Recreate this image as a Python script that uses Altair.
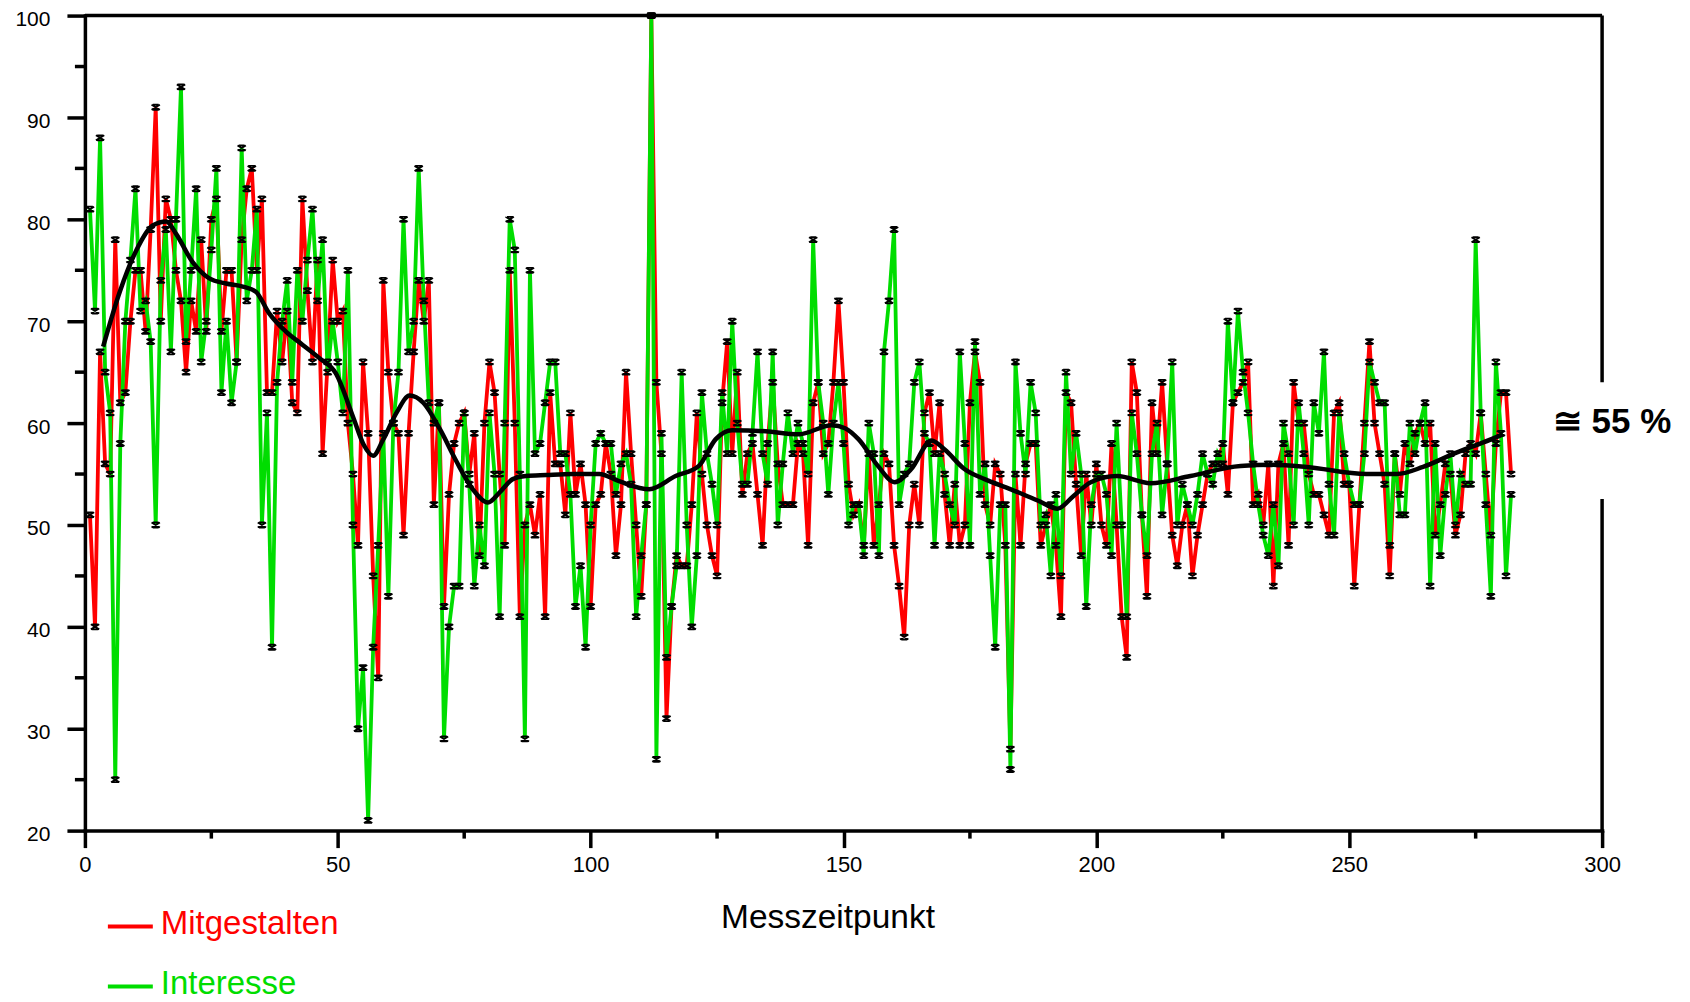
import altair as alt
import pandas as pd

# ---------------- data ----------------
x_index = list(range(1, 283))

mitgestalten = [
    51, 40, 67, 56, 55, 78, 62, 63, 70, 75,
    75, 69, 79, 91, 70, 82, 80, 75, 72, 65,
    72, 69, 78, 69, 80, 82, 69, 75, 75, 66,
    78, 83, 85, 75, 82, 63, 63, 71, 66, 71,
    62, 61, 82, 73, 66, 76, 57, 66, 76, 70,
    71, 60, 55, 48, 66, 59, 45, 35, 74, 65,
    60, 59, 49, 59, 67, 74, 70, 74, 52, 62,
    42, 53, 58, 60, 61, 55, 59, 47, 60, 66,
    63, 55, 48, 75, 60, 41, 50, 52, 49, 53,
    41, 63, 56, 56, 51, 61, 53, 56, 52, 42,
    52, 53, 58, 55, 47, 52, 65, 57, 50, 43,
    52, 100, 64, 57, 31, 42, 47, 46, 46, 52,
    61, 55, 50, 47, 45, 62, 68, 57, 65, 53,
    57, 58, 53, 48, 58, 64, 56, 52, 52, 52,
    58, 57, 48, 62, 64, 57, 58, 64, 72, 64,
    54, 51, 52, 48, 57, 48, 52, 57, 56, 48,
    44, 39, 50, 54, 50, 61, 63, 57, 62, 53,
    48, 54, 48, 50, 62, 67, 64, 52, 50, 56,
    55, 48, 28, 55, 48, 56, 58, 58, 48, 50,
    52, 48, 41, 63, 62, 54, 47, 55, 50, 56,
    50, 48, 58, 50, 41, 37, 66, 63, 51, 43,
    62, 57, 64, 56, 49, 46, 50, 52, 45, 49,
    52, 55, 56, 56, 58, 53, 62, 63, 64, 66,
    52, 53, 50, 56, 44, 56, 58, 48, 64, 60,
    60, 55, 53, 53, 51, 49, 61, 62, 54, 54,
    44, 52, 60, 68, 60, 57, 54, 45, 57, 53,
    58, 56, 59, 60, 58, 60, 49, 52, 56, 55,
    49, 51, 57, 58, 57, 61, 55, 49, 58, 63,
    63, 55,
]

interesse = [
    81, 71, 88, 65, 61, 25, 58, 70, 76, 83,
    71, 72, 68, 50, 74, 79, 67, 80, 93, 68,
    75, 83, 66, 70, 77, 85, 63, 70, 62, 66,
    87, 72, 75, 81, 50, 61, 38, 64, 70, 74,
    64, 75, 70, 76, 81, 72, 78, 65, 70, 66,
    61, 75, 50, 30, 36, 21, 38, 48, 59, 43,
    60, 65, 80, 67, 70, 85, 72, 62, 60, 62,
    29, 40, 44, 44, 61, 54, 44, 50, 46, 61,
    55, 41, 60, 80, 77, 55, 29, 75, 57, 58,
    62, 66, 66, 57, 57, 53, 42, 46, 38, 50,
    58, 59, 58, 58, 53, 56, 57, 54, 41, 47,
    52, 100, 27, 59, 37, 42, 46, 65, 50, 40,
    47, 63, 57, 54, 50, 63, 57, 70, 60, 54,
    54, 59, 67, 57, 54, 67, 50, 56, 61, 57,
    60, 58, 55, 78, 64, 60, 53, 60, 64, 58,
    50, 52, 52, 47, 60, 57, 47, 67, 72, 79,
    52, 55, 56, 64, 66, 59, 58, 48, 57, 55,
    52, 50, 67, 58, 48, 68, 53, 56, 47, 38,
    52, 52, 26, 66, 59, 55, 64, 61, 50, 51,
    45, 53, 45, 65, 55, 59, 55, 42, 52, 55,
    55, 53, 47, 60, 50, 41, 61, 57, 51, 47,
    57, 60, 51, 56, 66, 50, 54, 52, 50, 53,
    57, 55, 54, 57, 56, 70, 62, 71, 65, 61,
    56, 52, 49, 47, 52, 46, 60, 57, 50, 62,
    57, 50, 62, 59, 67, 54, 49, 61, 57, 54,
    52, 52, 57, 66, 64, 62, 62, 48, 57, 51,
    51, 60, 57, 60, 62, 44, 58, 47, 53, 57,
    50, 55, 54, 54, 78, 61, 52, 43, 66, 59,
    45, 53,
]

trend_x = [3.6, 6.9, 10.2, 13.4, 16.1, 18, 21.3, 24.6, 27.9, 31.2, 33.8, 36.4,
           39.7, 43, 46.3, 49.6, 53.1, 55.1, 57, 59, 61.6, 64.2, 66.9, 70.2,
           73.4, 76.7, 79.7, 82, 84.6, 87.2, 91.2, 96.4, 101.7, 105.6, 111.6,
           116.8, 121.4, 124.7, 128, 134.6, 141.1, 147.7, 150.3, 153, 156.8,
           160.1, 163.4, 167.4, 170, 173.9, 177.9, 183.1, 188.4, 192.3, 195.6,
           198.9, 204.1, 210.7, 218.6, 228.5, 235.1, 241.6, 253.4, 259.4,
           264.6, 271.2, 276.5, 280.4]
trend_y = [67.5, 72.9, 77, 79.4, 79.8, 78.6, 75.8, 74.2, 73.7, 73.4, 72.9, 70.8,
           69, 67.7, 66.4, 64.9, 60.5, 57.9, 56.8, 58.4, 61, 62.7, 62, 59.4,
           56.3, 53.5, 52.2, 53.2, 54.5, 54.8, 54.9, 55, 55, 54.3, 53.5,
           54.8, 55.8, 58.4, 59.3, 59.2, 58.9, 59.8, 59.5, 58.4, 55.8,
           54.2, 55.5, 58.3, 57.4, 55.5, 54.5, 53.5, 52.4, 51.6, 52.9,
           54.2, 54.8, 54.1, 54.8, 55.8, 55.9, 55.7, 55, 55,
           55.7, 57.1, 58.1, 58.9]

y_ticks = list(range(20, 101, 10))
y_minor = list(range(25, 100, 10))
x_ticks = list(range(0, 301, 50))
x_minor = list(range(25, 300, 50))
legend_labels = ["Mitgestalten", "Interesse"]
x_title = ["Messzeitpunkt"]
annotation = ["\u2245 55 %"]

# ---------------- styling ----------------
W, H = 1519, 816
RED = "#ff0000"
GREEN = "#00dd00"
FONT = "Liberation Sans"
AX = 3.5

xs = alt.Scale(domain=[0, 300], nice=False, zero=False)
ys = alt.Scale(domain=[20, 100], nice=False, zero=False)
xaxis = alt.Axis(values=x_ticks, tickSize=17, tickWidth=AX, domainWidth=AX,
                 domainColor="black", tickColor="black", labelColor="black",
                 labelFont=FONT, labelFontSize=22, labelPadding=7,
                 labelFlush=False, labelOverlap=False, grid=False, title=None,
                 format="d", domainCap="square")
yaxis = alt.Axis(values=y_ticks, tickSize=18, tickWidth=AX, domainWidth=AX,
                 domainColor="black", tickColor="black", labelColor="black",
                 labelFont=FONT, labelFontSize=21, labelPadding=17,
                 labelOffset=4, labelFlush=False, labelOverlap=False,
                 grid=False, title=None, format="d", domainCap="square")

red_df = pd.DataFrame({"x": x_index, "wert": mitgestalten})
green_df = pd.DataFrame({"x": x_index, "wert": interesse})
trend_df = pd.DataFrame({"x": trend_x, "wert": trend_y})

X = alt.X("x:Q", scale=xs, axis=xaxis)
Y = alt.Y("wert:Q", scale=ys, axis=yaxis)

red_line = alt.Chart(red_df).mark_line(color=RED, strokeWidth=3.8).encode(x=X, y=Y)
green_line = alt.Chart(green_df).mark_line(color=GREEN, strokeWidth=3.8).encode(x=X, y=Y)

marker_shape = ("M-1,-0.6L1,0.6M1,-0.6L-1,0.6"
                "M-0.7,-0.6H0.7M-0.7,0.6H0.7")
red_pts = alt.Chart(red_df).mark_point(shape=marker_shape, filled=False, color="black",
                                        strokeWidth=1.8, size=70, opacity=1).encode(x=X, y=Y)
green_pts = alt.Chart(green_df).mark_point(shape=marker_shape, filled=False, color="black",
                                            strokeWidth=1.8, size=70, opacity=1).encode(x=X, y=Y)

trend = alt.Chart(trend_df).mark_line(color="black", strokeWidth=4.5,
                                      interpolate="monotone").encode(x=X, y=Y)

# minor ticks
ymin_df = pd.DataFrame({"wert": y_minor})
xmin_df = pd.DataFrame({"x": x_minor})
y_minor_ticks = alt.Chart(ymin_df).mark_rule(color="black", strokeWidth=AX).encode(
    y=Y, x=alt.value(-10), x2=alt.value(0))
x_minor_ticks = alt.Chart(xmin_df).mark_rule(color="black", strokeWidth=AX).encode(
    x=X, y=alt.value(H), y2=alt.value(H + 8))

# frame (top line and broken right line)
one = pd.DataFrame({"k": [0]})
top_line = alt.Chart(one).mark_rule(color="black", strokeWidth=AX).encode(
    x=alt.value(0), x2=alt.value(W), y=alt.value(0))
right_up = alt.Chart(one).mark_rule(color="black", strokeWidth=AX).encode(
    x=alt.value(W), y=alt.value(0), y2=alt.value(367))
right_down = alt.Chart(one).mark_rule(color="black", strokeWidth=AX).encode(
    x=alt.value(W), y=alt.value(484), y2=alt.value(H))

# annotation on the right
ann = alt.Chart(pd.DataFrame({"t": annotation})).mark_text(
    font=FONT, fontSize=35, fontWeight="bold", color="black", align="center",
    baseline="middle").encode(text="t:N", x=alt.value(1529), y=alt.value(407))

# x title
xt = alt.Chart(pd.DataFrame({"t": x_title})).mark_text(
    font=FONT, fontSize=33.5, color="black", align="center",
    baseline="alphabetic").encode(text="t:N", x=alt.value(744), y=alt.value(914))

# manual legend
leg_red_line = alt.Chart(one).mark_rule(color=RED, strokeWidth=4).encode(
    x=alt.value(23), x2=alt.value(68), y=alt.value(912))
leg_green_line = alt.Chart(one).mark_rule(color=GREEN, strokeWidth=4).encode(
    x=alt.value(23), x2=alt.value(68), y=alt.value(972))
leg_red_text = alt.Chart(pd.DataFrame({"t": [legend_labels[0]]})).mark_text(
    font=FONT, fontSize=33, color=RED, align="left", baseline="alphabetic").encode(
    text="t:N", x=alt.value(76), y=alt.value(920))
leg_green_text = alt.Chart(pd.DataFrame({"t": [legend_labels[1]]})).mark_text(
    font=FONT, fontSize=33, color=GREEN, align="left", baseline="alphabetic").encode(
    text="t:N", x=alt.value(76), y=alt.value(980))

chart = alt.layer(
    red_line, green_line, red_pts, green_pts, trend,
    y_minor_ticks, x_minor_ticks, top_line, right_up, right_down,
    ann, xt, leg_red_line, leg_green_line, leg_red_text, leg_green_text,
).properties(
    width=W, height=H,
    padding={"left": 77, "top": 7, "right": 80, "bottom": 172},
    autosize=alt.AutoSizeParams(type="none"),
    background="white",
).configure_view(strokeWidth=0)

chart.save("out.html", embed_options={"renderer": "svg", "actions": False})
